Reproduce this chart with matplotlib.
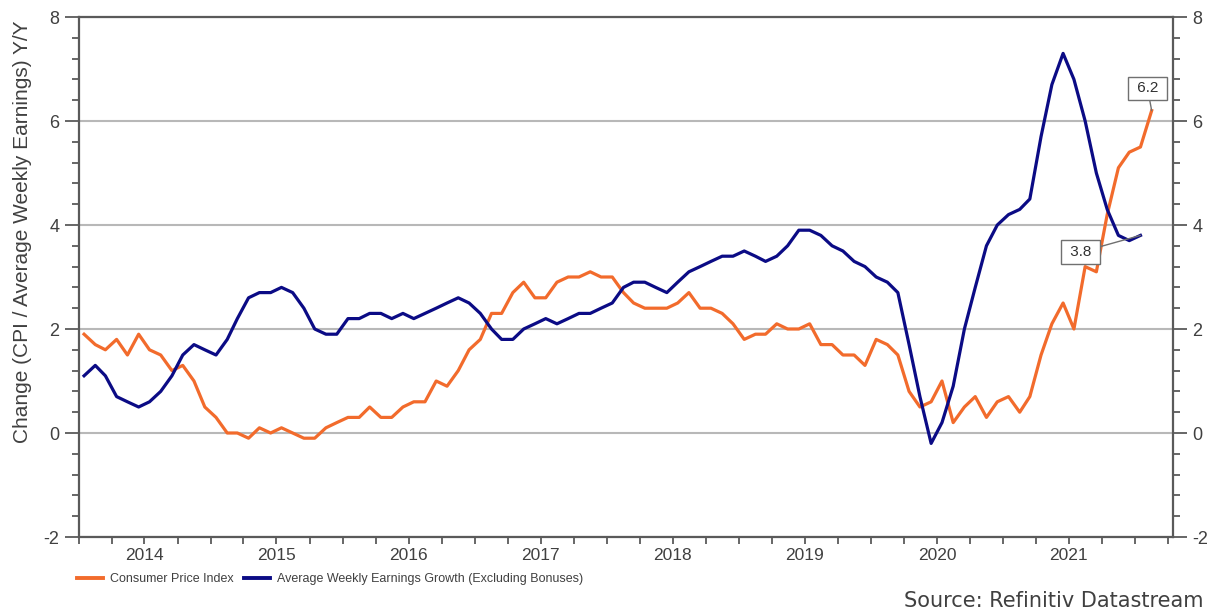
import matplotlib
matplotlib.use("Agg")
import matplotlib.pyplot as plt
from matplotlib.ticker import MultipleLocator
import pandas as pd

# ---- data (monthly, Jan 2014 onward) ----
cpi = [1.9, 1.7, 1.6, 1.8, 1.5, 1.9, 1.6, 1.5, 1.2, 1.3, 1.0, 0.5,
       0.3, 0.0, 0.0, -0.1, 0.1, 0.0, 0.1, 0.0, -0.1, -0.1, 0.1, 0.2,
       0.3, 0.3, 0.5, 0.3, 0.3, 0.5, 0.6, 0.6, 1.0, 0.9, 1.2, 1.6,
       1.8, 2.3, 2.3, 2.7, 2.9, 2.6, 2.6, 2.9, 3.0, 3.0, 3.1, 3.0,
       3.0, 2.7, 2.5, 2.4, 2.4, 2.4, 2.5, 2.7, 2.4, 2.4, 2.3, 2.1,
       1.8, 1.9, 1.9, 2.1, 2.0, 2.0, 2.1, 1.7, 1.7, 1.5, 1.5, 1.3,
       1.8, 1.7, 1.5, 0.8, 0.5, 0.6, 1.0, 0.2, 0.5, 0.7, 0.3, 0.6,
       0.7, 0.4, 0.7, 1.5, 2.1, 2.5, 2.0, 3.2, 3.1, 4.2, 5.1, 5.4,
       5.5, 6.2]
awe = [1.1, 1.3, 1.1, 0.7, 0.6, 0.5, 0.6, 0.8, 1.1, 1.5, 1.7, 1.6,
       1.5, 1.8, 2.2, 2.6, 2.7, 2.7, 2.8, 2.7, 2.4, 2.0, 1.9, 1.9,
       2.2, 2.2, 2.3, 2.3, 2.2, 2.3, 2.2, 2.3, 2.4, 2.5, 2.6, 2.5,
       2.3, 2.0, 1.8, 1.8, 2.0, 2.1, 2.2, 2.1, 2.2, 2.3, 2.3, 2.4,
       2.5, 2.8, 2.9, 2.9, 2.8, 2.7, 2.9, 3.1, 3.2, 3.3, 3.4, 3.4,
       3.5, 3.4, 3.3, 3.4, 3.6, 3.9, 3.9, 3.8, 3.6, 3.5, 3.3, 3.2,
       3.0, 2.9, 2.7, 1.7, 0.7, -0.2, 0.2, 0.9, 2.0, 2.8, 3.6, 4.0,
       4.2, 4.3, 4.5, 5.7, 6.7, 7.3, 6.8, 6.0, 5.0, 4.3, 3.8, 3.7,
       3.8]
start_month = "2014-01-01"
years = list(range(2014, 2022))
cpi_label = "Consumer Price Index"
awe_label = "Average Weekly Earnings Growth (Excluding Bonuses)"
ylabel = "Change (CPI / Average Weekly Earnings) Y/Y"
source = "Source: Refinitiv Datastream"

# ---- styling ----
ORANGE = "#f26b2c"
NAVY = "#0b0b85"
TXT = "#404040"
GRID = "#b8b8b8"
SPINE = "#5a5a5a"

plt.rcParams["font.family"] = ["Liberation Sans", "DejaVu Sans"]
plt.rcParams["axes.unicode_minus"] = False

cpi_dates = pd.date_range(start_month, periods=len(cpi), freq="MS") + pd.Timedelta(days=14)
awe_dates = pd.date_range(start_month, periods=len(awe), freq="MS") + pd.Timedelta(days=14)

fig = plt.figure(figsize=(12.29, 6.16), dpi=100)
ax = fig.add_axes([79 / 1229, 1 - 537 / 616, (1173 - 79) / 1229, (537 - 17) / 616])

ax.set_ylim(-2, 8)
ax.set_xlim(pd.Timestamp("2014-01-01"), pd.Timestamp("2022-04-15"))

for v in range(-2, 9, 2):
    ax.axhline(v, color=GRID, lw=1.5, zorder=1)

ax.plot(cpi_dates, cpi, color=ORANGE, lw=2.3, zorder=3, label=cpi_label,
        solid_joinstyle="round")
ax.plot(awe_dates, awe, color=NAVY, lw=2.3, zorder=4, label=awe_label,
        solid_joinstyle="round")

# y axes
ax.yaxis.set_major_locator(MultipleLocator(2))
ax.yaxis.set_minor_locator(MultipleLocator(0.4))
ax.tick_params(axis="y", which="major", length=10, width=1.3, color=SPINE,
               labelsize=13, labelcolor=TXT, pad=4, left=True, right=True,
               labelleft=True, labelright=True)
ax.tick_params(axis="y", which="minor", length=5, width=1.3, color=SPINE,
               left=True, right=True)

# x axis: quarterly ticks, year label at mid-year
quarters = pd.date_range("2014-01-01", "2022-04-01", freq="QS")
qlabels = [str(d.year) if (d.month == 7 and d.year in years) else "" for d in quarters]
ax.set_xticks(quarters)
ax.set_xticklabels(qlabels)
ax.tick_params(axis="x", which="major", length=5, width=1.3, color=SPINE,
               labelsize=12.5, labelcolor=TXT, pad=3)

for s in ax.spines.values():
    s.set_color(SPINE)
    s.set_linewidth(1.6)

ax.set_ylabel(ylabel, fontsize=15, color=TXT)
ax.yaxis.set_label_coords((32 - 79) / 1094, (537 - 232) / 520)

# end-value labels
bbox = dict(boxstyle="square,pad=0.3", fc="white", ec="#707070", lw=1.0)
ax.annotate(f" {cpi[-1]:.1f} ", xy=(cpi_dates[-1], cpi[-1]), xytext=(-3, 16),
            textcoords="offset points", ha="center", va="center",
            fontsize=11, color="#303030", bbox=bbox, zorder=6,
            arrowprops=dict(arrowstyle="-", color="#707070", lw=1.0,
                            shrinkA=0, shrinkB=0))
ax.annotate(f" {awe[-1]:.1f} ", xy=(awe_dates[-1], awe[-1]), xytext=(-43, -12),
            textcoords="offset points", ha="center", va="center",
            fontsize=11, color="#303030", bbox=bbox, zorder=6,
            arrowprops=dict(arrowstyle="-", color="#707070", lw=1.0,
                            shrinkA=0, shrinkB=0))

leg = fig.legend(loc="center left", bbox_to_anchor=(72 / 1229, 1 - 579 / 616),
                 ncol=2, frameon=False, fontsize=9.0, handlelength=2.1,
                 handletextpad=0.55, columnspacing=0.8, borderaxespad=0)
for t in leg.get_texts():
    t.set_color(TXT)
for h in leg.get_lines():
    h.set_linewidth(2.8)

fig.text(1203 / 1229, 1 - 601 / 616, source, ha="right", va="center",
         fontsize=15, color="#404040", family=["DejaVu Sans"])

fig.savefig("out.png", dpi=100)
